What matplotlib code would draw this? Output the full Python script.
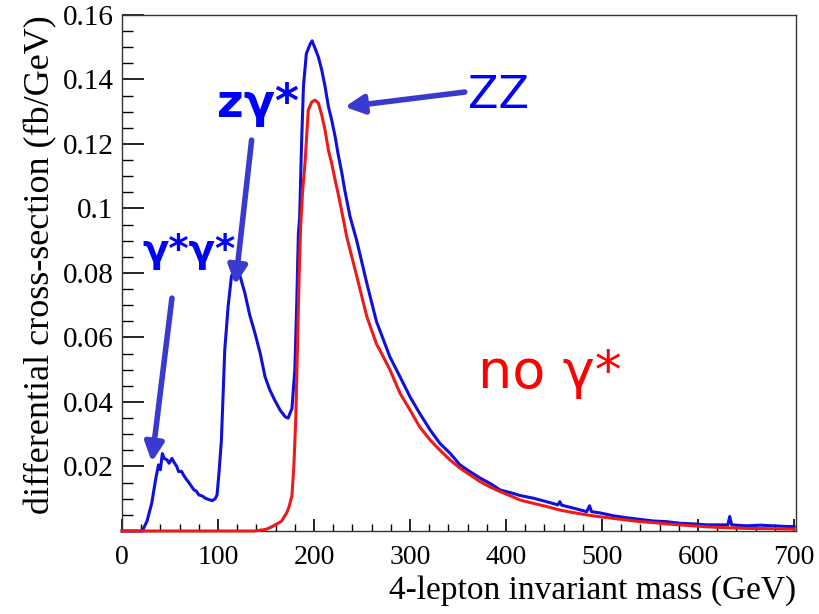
import matplotlib.pyplot as plt

# === Data ===
# ZZ + Z gamma* + gamma* gamma* (blue)
mass_all = [0, 20, 21, 26, 31, 35, 38, 40, 42, 44, 47, 49, 52, 54, 57, 59, 62, 64, 67, 69,
            72, 75, 77, 80, 84, 87, 90, 94, 97, 99, 101, 103.5, 104, 107, 110.5, 114, 118, 120,
            123, 128, 133, 138.5, 144, 149, 154, 159, 164.6, 170, 173, 175, 177, 180, 182,
            183.7, 185, 187, 189, 192, 196, 198, 201, 204.5, 208, 211.5, 215, 218.4, 222, 225,
            229, 232, 237.5, 244.5, 255, 265, 279, 289.6, 300, 310, 321, 331, 341.7, 352,
            362.5, 373, 383, 394, 407, 414.6, 428, 442, 454, 456, 458, 470, 484, 487, 489,
            498, 512, 525.7, 539.6, 553.5, 567, 581, 595, 609, 623, 631, 633, 635, 650.7,
            664.6, 678, 692.4, 700]
xsec_all = [0, 0, 0.0, 0.003, 0.0087, 0.016, 0.0205, 0.019, 0.024, 0.0225, 0.022, 0.021,
            0.0225, 0.0214, 0.020, 0.0184, 0.0185, 0.0174, 0.016, 0.0153, 0.014, 0.0127, 0.0125,
            0.0112, 0.0108, 0.0101, 0.0098, 0.0094, 0.0100, 0.0112, 0.018, 0.028, 0.032, 0.056,
            0.0696, 0.079, 0.0815, 0.082, 0.079, 0.0737, 0.067, 0.0613, 0.055, 0.0478, 0.0437,
            0.0406, 0.0375, 0.0354, 0.035, 0.0365, 0.038, 0.05, 0.0705, 0.0923, 0.097, 0.12,
            0.138, 0.148, 0.151, 0.152, 0.1497, 0.147, 0.143, 0.1378, 0.1316, 0.1274, 0.1223,
            0.117, 0.111, 0.1057, 0.0975, 0.090, 0.0768, 0.065, 0.054, 0.0478, 0.0416, 0.0365,
            0.0313, 0.0272, 0.0241, 0.0205, 0.0184, 0.0164, 0.0148, 0.0127, 0.0117, 0.0110,
            0.0102, 0.0091, 0.0081, 0.0091, 0.0080, 0.0071, 0.0060, 0.0078, 0.0060, 0.0056,
            0.0047, 0.0041, 0.0036, 0.0031, 0.0029, 0.0024, 0.0022, 0.0019, 0.0019, 0.0019,
            0.0045, 0.0019, 0.0016, 0.0018, 0.0016, 0.0014, 0.0014]

# ZZ only, no gamma* (red)
mass_zz = [0, 138, 150, 156, 166, 171.5, 174, 177, 179, 181, 182.6, 184.4, 186, 188, 190.6,
           194, 197.6, 201, 204.5, 208, 211.5, 215, 218.4, 222, 225, 230, 234, 244.5, 255,
           265, 268.75, 279, 289.6, 300, 310, 321, 331, 341.7, 352, 362.5, 373, 383, 394,
           407, 414.6, 428, 442, 456, 470, 484, 498, 512, 525.7, 539.6, 553.5, 567, 581, 595,
           609, 623, 650, 678, 692, 700]
xsec_zz = [0, 0, 0.0005, 0.0013, 0.003, 0.0056, 0.0075, 0.011, 0.02, 0.035, 0.055, 0.078,
           0.094, 0.105, 0.114, 0.1305, 0.133, 0.1336, 0.1327, 0.129, 0.1243, 0.118, 0.114,
           0.1088, 0.1048, 0.0975, 0.0913, 0.079, 0.0665, 0.058, 0.056, 0.050, 0.0427, 0.0375,
           0.0323, 0.0282, 0.0251, 0.022, 0.0195, 0.0174, 0.0153, 0.0137, 0.0122, 0.0106,
           0.0096, 0.0086, 0.0076, 0.0065, 0.0057, 0.005, 0.0044, 0.0039, 0.0034, 0.0029,
           0.0026, 0.0022, 0.0019, 0.0016, 0.0013, 0.0011, 0.0008, 0.0007, 0.0006, 0.0006]

y_ticks = [0.02, 0.04, 0.06, 0.08, 0.1, 0.12, 0.14, 0.16]
y_tick_labels = ["0.02", "0.04", "0.06", "0.08", "0.1", "0.12", "0.14", "0.16"]
x_ticks = [0, 100, 200, 300, 400, 500, 600, 700]

blue_line = "#1010d8"
red_line = "#ee1a1a"
arrow_blue = "#3a3ad0"

# === Plot ===
fig = plt.figure(figsize=(8.2, 6.14), dpi=100)
ax = fig.add_axes([0.1488, 0.1352, 0.8219, 0.8404])

ax.plot(mass_all, xsec_all, color=blue_line, lw=2.2, clip_on=False, zorder=3)
ax.plot(mass_zz, xsec_zz, color=red_line, lw=2.2, clip_on=False, zorder=4)

ax.set_xlim(0, 702)
ax.set_ylim(0, 0.16)

serif = "Liberation Serif"
ax.set_yticks(y_ticks)
ax.set_yticklabels(y_tick_labels, fontfamily=serif, fontsize=21)
ax.set_yticks([i * 0.005 for i in range(33)], minor=True)
ax.set_xticks(x_ticks)
ax.set_xticklabels([str(t) for t in x_ticks], fontfamily=serif, fontsize=20)
ax.set_xticks(list(range(0, 701, 20)), minor=True)

ax.tick_params(axis='y', which='major', direction='in', length=16, width=1.2, pad=6)
ax.tick_params(axis='y', which='minor', direction='in', length=8, width=1.0)
ax.tick_params(axis='x', which='major', direction='in', length=9, width=1.2, pad=10)
ax.tick_params(axis='x', which='minor', direction='in', length=5, width=1.0)

for side in ax.spines.values():
    side.set_linewidth(1.0)
    side.set_color("#333333")

ax.set_xlabel("4-lepton invariant mass (GeV)", fontfamily=serif, fontsize=24, loc='right')
ax.set_ylabel("differential cross-section (fb/GeV)", fontfamily=serif, fontsize=26, loc='top')

# === Annotations ===
arrow_kw = dict(arrowstyle='-|>', lw=4, color=arrow_blue, mutation_scale=28, shrinkA=0, shrinkB=0)
ax.annotate("", xy=(31, 0.0214), xytext=(52, 0.0722), arrowprops=arrow_kw)
ax.annotate("", xy=(118, 0.0763), xytext=(135, 0.1212), arrowprops=arrow_kw)
ax.annotate("", xy=(232, 0.1315), xytext=(357, 0.1361), arrowprops=arrow_kw)

sans = "DejaVu Sans"
ax.text(21, 0.0834, "γ*γ*", color="#0000ff", fontsize=28, fontweight='bold',
        fontfamily=sans, va='baseline', ha='left')
ax.text(99, 0.1284, "zγ*", color="#0000ff", fontsize=33, fontweight='bold',
        fontfamily=sans, va='baseline', ha='left')
ax.text(360, 0.1312, "ZZ", color="#0000ff", fontsize=32,
        fontfamily=sans, va='baseline', ha='left')
ax.text(371, 0.0443, "no γ*", color="#ff0000", fontsize=39,
        fontfamily=sans, va='baseline', ha='left')

fig.savefig("out.png", dpi=100)
